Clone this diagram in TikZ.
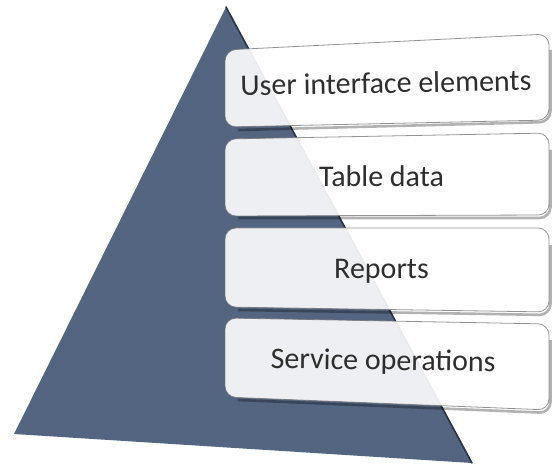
\documentclass[tikz,border=0pt]{standalone}
\usepackage{fontspec}
\setmainfont{Carlito}
\definecolor{slate}{HTML}{536580}
\definecolor{slateedge}{HTML}{2A3340}
\definecolor{labeltext}{HTML}{2E2E2E}
\definecolor{boxline}{HTML}{707070}
\begin{document}
\begin{tikzpicture}[x=1pt,y=-1pt,
  layerbox/.style={fill=white,fill opacity=0.9,draw=boxline,draw opacity=0.75,line width=0.8pt,rounded corners=11pt},
  layershadow/.style={draw=black,draw opacity=0.3,line width=2.6pt,rounded corners=11pt},
  layerlabel/.style={text=labeltext,font=\fontsize{30}{36}\selectfont,inner sep=0pt,anchor=base}]
\useasboundingbox (0,0) rectangle (552,468);

% pyramid
\coordinate (apex) at (226,7);
\coordinate (bl) at (14,434);
\coordinate (br) at (472,463);
\fill[slate] (apex) -- (br) -- (bl) -- cycle;
\draw[slateedge,line width=1.6pt,line cap=round] (apex) -- (br);

% soft shadows under the layers (bottom and right edges)
\draw[layershadow] (238,130) -- (550.5,122) -- (550.5,50);
\draw[layershadow] (238,218) -- (550.5,218) -- (550.5,150);
\draw[layershadow] (238,310) -- (550.5,315) -- (550.5,245);
\draw[layershadow] (238,400) -- (550.5,413) -- (550.5,340);

% layers
\draw[layerbox] (225,50) -- (549,34) -- (549,120) -- (225,127) -- cycle;
\draw[layerbox] (225,139) -- (549,133) -- (549,215) -- (225,216) -- cycle;
\draw[layerbox] (225,228) -- (549,228) -- (549,312) -- (225,307) -- cycle;
\draw[layerbox] (225,318) -- (549,324) -- (549,410) -- (225,397) -- cycle;

% labels
\node[layerlabel,rotate=1] (ui) at (386,93) {User interface elements};
\node[layerlabel] (table) at (381.5,186) {Table data};
\node[layerlabel] (reports) at (381.5,278) {Reports};
\node[layerlabel,rotate=-0.8] (service) at (383,370) {Service operations};
\end{tikzpicture}
\end{document}
